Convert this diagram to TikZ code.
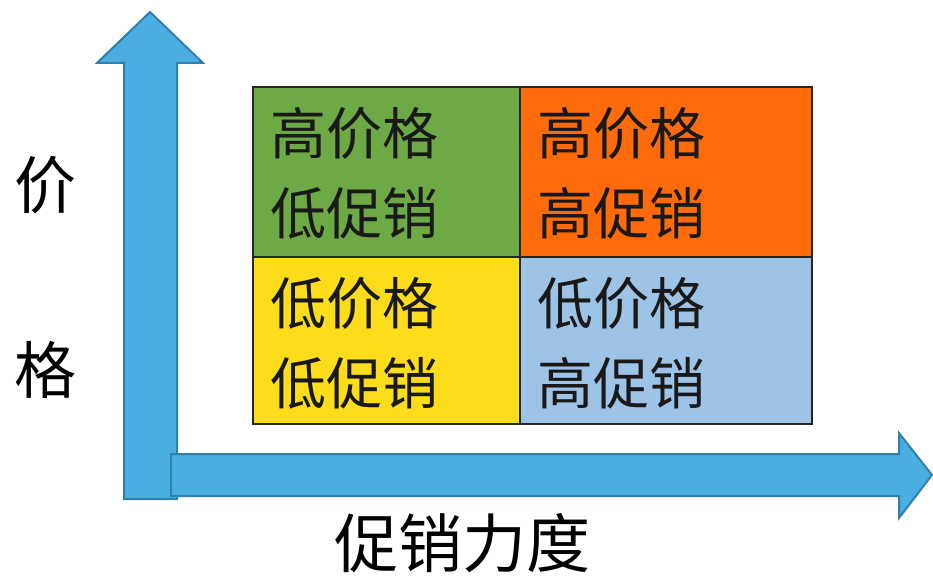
\documentclass[tikz,border=0pt]{standalone}
\usepackage{fontspec}
\newfontfamily\cjk{Noto Sans CJK SC}
\definecolor{arrowfill}{HTML}{4AAEE0}
\definecolor{arrowedge}{HTML}{2F80AD}
\definecolor{cgreen}{HTML}{6DA944}
\definecolor{corange}{HTML}{FF6A0A}
\definecolor{cyellow}{HTML}{FDDD1B}
\definecolor{cblue}{HTML}{9DC3E6}
\tikzset{
  axis/.style={fill=arrowfill, draw=arrowedge, line width=2pt, line join=miter},
  cell/.style={draw=black!85, line width=1.2pt, minimum height=170pt, inner sep=0pt, outer sep=0pt},
  celltext/.style={anchor=north west, inner sep=0pt, align=left, font=\cjk\fontsize{56}{80}\selectfont, text=black!90},
  axlabel/.style={inner sep=0pt, font=\cjk\fontsize{62}{62}\selectfont}
}
\begin{document}
\begin{tikzpicture}[x=1pt,y=-1pt]
\useasboundingbox (0,0) rectangle (933,577);
% vertical axis
\draw[axis] (124,499) -- (124,63) -- (97,63) -- (150,12) -- (203,63) -- (177,63) -- (177,499) -- cycle;
% horizontal axis
\draw[axis] (171,454) -- (899,454) -- (899,433) -- (932,475) -- (899,518) -- (899,496) -- (171,496) -- cycle;
% cells
\node[cell, fill=cgreen, minimum width=267pt, anchor=north west] (c1) at (253,87) {};
\node[cell, fill=corange, minimum width=292pt, anchor=north west] (c2) at (520,87) {};
\node[cell, fill=cyellow, minimum width=267pt, minimum height=167pt, anchor=north west] (c3) at (253,257) {};
\node[cell, fill=cblue, minimum width=292pt, minimum height=167pt, anchor=north west] (c4) at (520,257) {};
\node[celltext] (t1) at ([shift={(17,20)}]c1.north west) {高价格\\低促销};
\node[celltext] (t2) at ([shift={(17,20)}]c2.north west) {高价格\\高促销};
\node[celltext] (t3) at ([shift={(17,20)}]c3.north west) {低价格\\低促销};
\node[celltext] (t4) at ([shift={(17,20)}]c4.north west) {低价格\\高促销};
% axis labels
\node[axlabel] (ly1) at (45,185) {价};
\node[axlabel] (ly2) at (45,370) {格};
\node[axlabel, font=\cjk\fontsize{64}{64}\selectfont] (lx) at (462,543) {促销力度};
\end{tikzpicture}
\end{document}
